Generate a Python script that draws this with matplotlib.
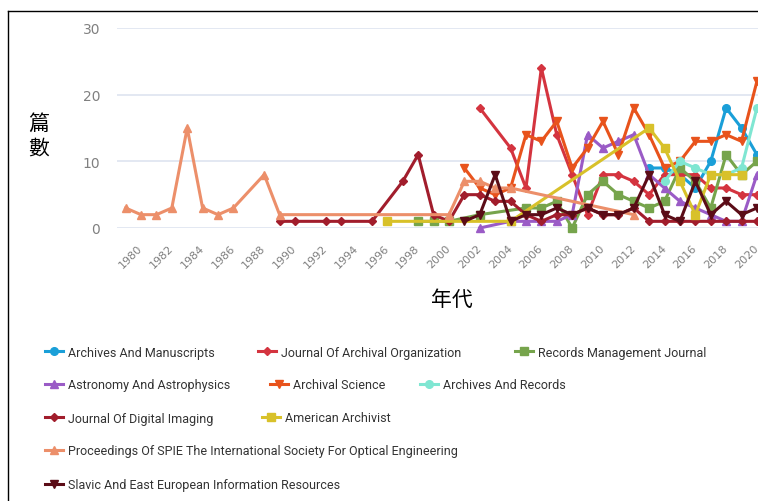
"""Publications per year for archival / imaging journals."""
import matplotlib
matplotlib.use("Agg")
import matplotlib.pyplot as plt
from matplotlib.lines import Line2D

# ---- data ----
series_names = [
    "Archives And Manuscripts",
    "Journal Of Archival Organization",
    "Records Management Journal",
    "Astronomy And Astrophysics",
    "Archival Science",
    "Archives And Records",
    "Journal Of Digital Imaging",
    "American Archivist",
    "Proceedings Of SPIE The International Society For Optical Engineering",
    "Slavic And East European Information Resources",
]

am_years = [2013, 2014, 2015, 2016, 2017, 2018, 2019, 2020]
am_counts = [9, 9, 8, 6, 10, 18, 15, 11]

jao_years = [2002, 2004, 2005, 2006, 2007, 2008, 2009, 2010, 2011, 2012,
             2013, 2014, 2015, 2016, 2017, 2018, 2019, 2020]
jao_counts = [18, 12, 6, 24, 14, 8, 2, 8, 8, 7, 5, 8, 8, 8, 6, 6, 5, 5]

rmj_years = [1998, 1999, 2000, 2002, 2005, 2006, 2007, 2008, 2009, 2010,
             2011, 2012, 2013, 2014, 2015, 2016, 2017, 2018, 2019, 2020]
rmj_counts = [1, 1, 1, 2, 3, 3, 4, 0, 5, 7, 5, 4, 3, 4, 9, 7, 3, 11, 8, 10]

aa_years = [2002, 2004, 2005, 2006, 2007, 2008, 2009, 2010, 2011, 2012,
            2013, 2014, 2015, 2016, 2017, 2018, 2019, 2020]
aa_counts = [0, 1, 1, 1, 1, 2, 14, 12, 13, 14, 8, 6, 4, 3, 2, 1, 1, 8]

as_years = list(range(2001, 2021))
as_counts = [9, 6, 5, 6, 14, 13, 16, 9, 12, 16, 11, 18, 14, 9, 10, 13, 13, 14, 13, 22]

ar_years = [2014, 2015, 2016, 2017, 2018, 2019, 2020]
ar_counts = [7, 10, 9, 8, 8, 9, 18]

jdi_years = [1989, 1990, 1992, 1993, 1995, 1997, 1998, 1999, 2000, 2001,
             2002, 2003, 2004, 2005, 2006, 2007, 2008, 2009, 2010, 2011,
             2012, 2013, 2014, 2015, 2016, 2017, 2018, 2019, 2020]
jdi_counts = [1, 1, 1, 1, 1, 7, 11, 2, 1, 5, 5, 4, 4, 2, 1, 2, 2, 3, 2, 2,
              3, 1, 1, 1, 1, 1, 1, 1, 1]

amarch_years = [1996, 2004, 2013, 2014, 2015, 2016, 2017, 2018, 2019]
amarch_counts = [1, 1, 15, 12, 7, 2, 8, 8, 8]

spie_years = [1979, 1980, 1981, 1982, 1983, 1984, 1985, 1986, 1988, 1989,
              2000, 2001, 2002, 2003, 2004, 2012]
spie_counts = [3, 2, 2, 3, 15, 3, 2, 3, 8, 2, 2, 7, 7, 6, 6, 2]

slavic_years = list(range(2001, 2021))
slavic_counts = [1, 2, 8, 1, 2, 2, 3, 2, 3, 2, 2, 3, 8, 2, 1, 7, 2, 4, 2, 3]

all_years = [am_years, jao_years, rmj_years, aa_years, as_years,
             ar_years, jdi_years, amarch_years, spie_years, slavic_years]
all_counts = [am_counts, jao_counts, rmj_counts, aa_counts, as_counts,
              ar_counts, jdi_counts, amarch_counts, spie_counts, slavic_counts]

colors = ["#1a9fd8", "#d4343f", "#76a44c", "#9a5bc6", "#e8531c",
          "#7fe6d2", "#a11d2c", "#d8c12a", "#ec8f6a", "#5b0c17"]
markers = ["o", "D", "s", "^", "v", "o", "D", "s", "^", "v"]

year_ticks = list(range(1980, 2021, 2))
y_ticks = [0, 10, 20, 30]

W, H = 758, 502


def fx(px):
    """pixel x -> figure fraction."""
    return px / W


def fy(py):
    """pixel y (from top) -> figure fraction."""
    return 1 - py / H


def main():
    """."""
    fig = plt.figure(figsize=(W / 100, H / 100), dpi=100)
    fig.patch.set_facecolor("white")

    ax = fig.add_axes([fx(117), fy(229), fx(758 - 117), (229 - 29) / H])
    ax.set_xlim(1978.44, 2020.07)
    ax.set_ylim(0, 30)
    for s in ax.spines.values():
        s.set_visible(False)
    ax.set_yticks(y_ticks)
    ax.set_xticks(year_ticks)
    ax.grid(axis="y", color="#e0e6f1", lw=1.3)
    ax.set_axisbelow(True)
    ax.tick_params(length=0)
    ax.tick_params(axis="y", pad=12, labelsize=10, labelcolor="#808080")
    ax.set_xticklabels([str(y) for y in year_ticks], rotation=45, ha="right",
                       va="center", rotation_mode="anchor", fontsize=8,
                       color="#808080")
    ax.tick_params(axis="x", pad=13)

    handles = []
    for name, yrs, cnt, col, mk in zip(series_names, all_years, all_counts,
                                        colors, markers):
        ms = 4.5 if mk == "D" else 5.5
        line, = ax.plot(yrs, cnt, color=col, lw=2.2, marker=mk, ms=ms,
                        clip_on=False, label=name)
        handles.append(line)

    cjk = ["Noto Sans CJK TC", "DejaVu Sans"]
    fig.text(fx(39), fy(136), "篇\n數", family=cjk, fontsize=15,
             ha="center", va="center", linespacing=1.15)
    fig.text(fx(452), fy(300), "年代", family=cjk, fontsize=15,
             ha="center", va="center")

    # legend laid out in rows like the original flow layout
    legend_pos = [(45, 353), (258, 353), (515, 353),
                  (45, 386), (270, 386), (420, 386),
                  (45, 419), (262, 419),
                  (45, 452),
                  (45, 486)]
    for h, (px, py) in zip(handles, legend_pos):
        leg = fig.legend(handles=[h], loc="center left",
                         bbox_to_anchor=(fx(px), fy(py)), frameon=False,
                         borderpad=0, borderaxespad=0, handlelength=1.45,
                         handletextpad=0.4, prop={"family": "Roboto", "size": 9})
        for t in leg.get_texts():
            t.set_color("#333333")

    # outer frame of the screenshot
    fig.add_artist(Line2D([fx(8), 1], [fy(12), fy(12)], color="black", lw=1))
    fig.add_artist(Line2D([fx(8), fx(8)], [0, fy(12)], color="black", lw=1))

    fig.savefig("out.png", dpi=100)


if __name__ == "__main__":
    main()
